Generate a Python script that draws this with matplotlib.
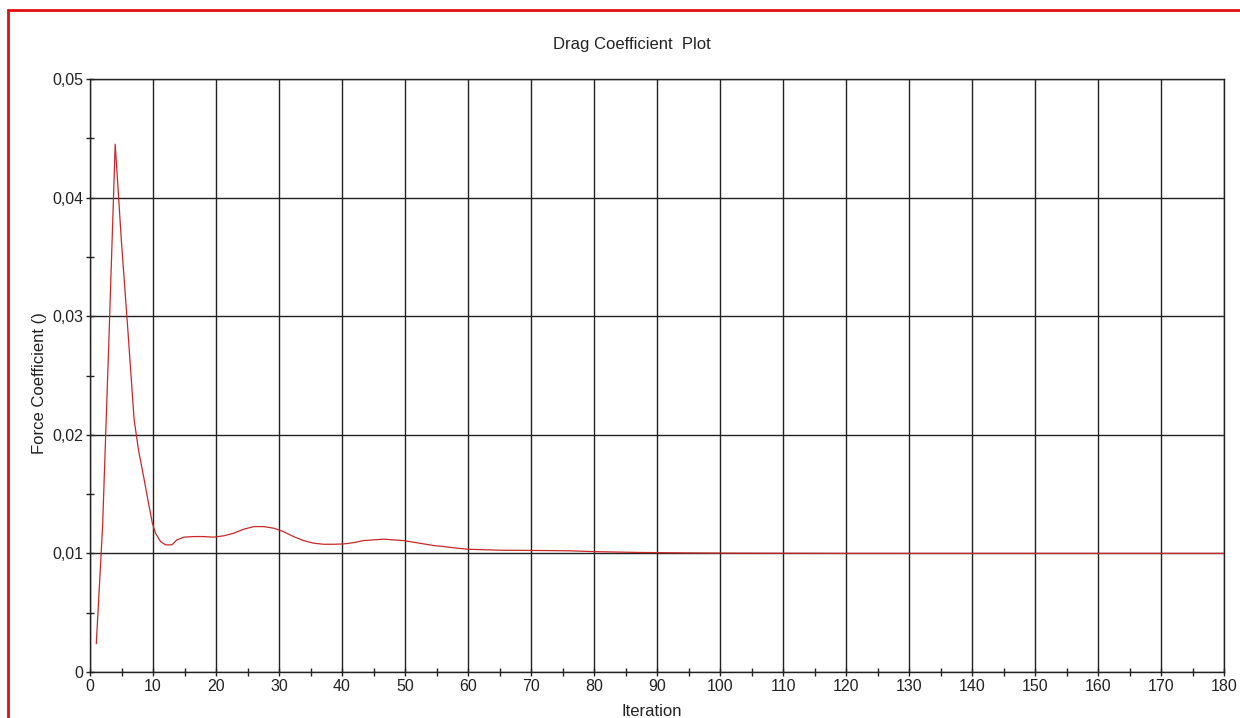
import matplotlib
matplotlib.use("Agg")
import matplotlib.pyplot as plt
from matplotlib.ticker import MultipleLocator, FuncFormatter
from matplotlib.patches import Rectangle

iteration = [1, 2, 3, 4, 5, 6, 7, 7.7, 8.5, 9.3, 9.9, 10.4, 11.2, 12, 13, 13.8, 14.9,
             16.5, 18, 19.6, 21.2, 22.8, 24.4, 26, 27.6, 29.2, 30.7, 32.3, 33.9, 35.5,
             37.1, 38.7, 40.3, 41.9, 43.4, 45, 46.6, 48.2, 49.8, 51.4, 53, 54.6, 56.1,
             58.3, 60, 65, 70, 76, 80, 87, 95, 102, 120, 140, 160, 180]
drag = [0.0024, 0.0123, 0.028, 0.0445, 0.0362, 0.0289, 0.0213, 0.0187, 0.0165, 0.0142,
        0.01255, 0.0117, 0.0110, 0.01072, 0.01072, 0.01114, 0.01137, 0.01142, 0.01142,
        0.01137, 0.01148, 0.0117, 0.01204, 0.01226, 0.01226, 0.01212, 0.01184, 0.01142,
        0.01108, 0.01086, 0.01077, 0.01077, 0.0108, 0.01091, 0.01108, 0.01114, 0.0112,
        0.01114, 0.01108, 0.01094, 0.0108, 0.01066, 0.01058, 0.01044, 0.01035, 0.01027,
        0.01025, 0.01022, 0.01015, 0.01008, 0.01004, 0.01002, 0.0100, 0.0100, 0.0100, 0.0100]

x_ticks = list(range(0, 181, 10))
y_ticks = [0, 0.01, 0.02, 0.03, 0.04, 0.05]

plt.rcParams['font.family'] = ['Liberation Sans', 'DejaVu Sans']

fig = plt.figure(figsize=(12.4, 7.18), dpi=100)
ax = fig.add_axes([90 / 1240, 1 - 672 / 718, (1224 - 90) / 1240, (672 - 79) / 718])

ax.plot(iteration, drag, color='#c82828', lw=0.9, zorder=3)

ax.set_xlim(0, 180)
ax.set_ylim(0, 0.05)
ax.set_xticks(x_ticks)
ax.set_yticks(y_ticks)
ax.xaxis.set_minor_locator(MultipleLocator(5))
ax.yaxis.set_minor_locator(MultipleLocator(0.005))
ax.yaxis.set_major_formatter(FuncFormatter(lambda v, p: '0' if v == 0 else f'{v:.2f}'.replace('.', ',')))
ax.xaxis.set_major_formatter(FuncFormatter(lambda v, p: f'{int(v)}'))
ax.grid(True, which='major', color='#222222', lw=1.0)
ax.tick_params(which='both', direction='inout', colors='#222222', labelcolor='#222222',
               labelsize=11.5, width=1.0)
ax.tick_params(which='major', length=6, pad=2)
ax.tick_params(which='minor', length=6)
for side in ['left', 'bottom', 'top', 'right']:
    ax.spines[side].set_color('#222222')
    ax.spines[side].set_linewidth(1.0)

fig.text(632 / 1240, 1 - 45 / 718, 'Drag Coefficient  Plot', ha='center', va='center',
         fontsize=12, color='#222222')
fig.text(40 / 1240, 1 - 383 / 718, 'Force Coefficient ()', ha='center', va='center',
         rotation=90, fontsize=12, color='#222222')
fig.text(652 / 1240, 1 - 711 / 718, 'Iteration', ha='center', va='center',
         fontsize=12, color='#222222')

fig.patches.append(Rectangle((8 / 1240, -0.05), 1.2, 1 - 10 / 718 + 0.05,
                             transform=fig.transFigure, fill=False,
                             edgecolor='#e01010', lw=2.0))

fig.savefig('out.png', dpi=100)
